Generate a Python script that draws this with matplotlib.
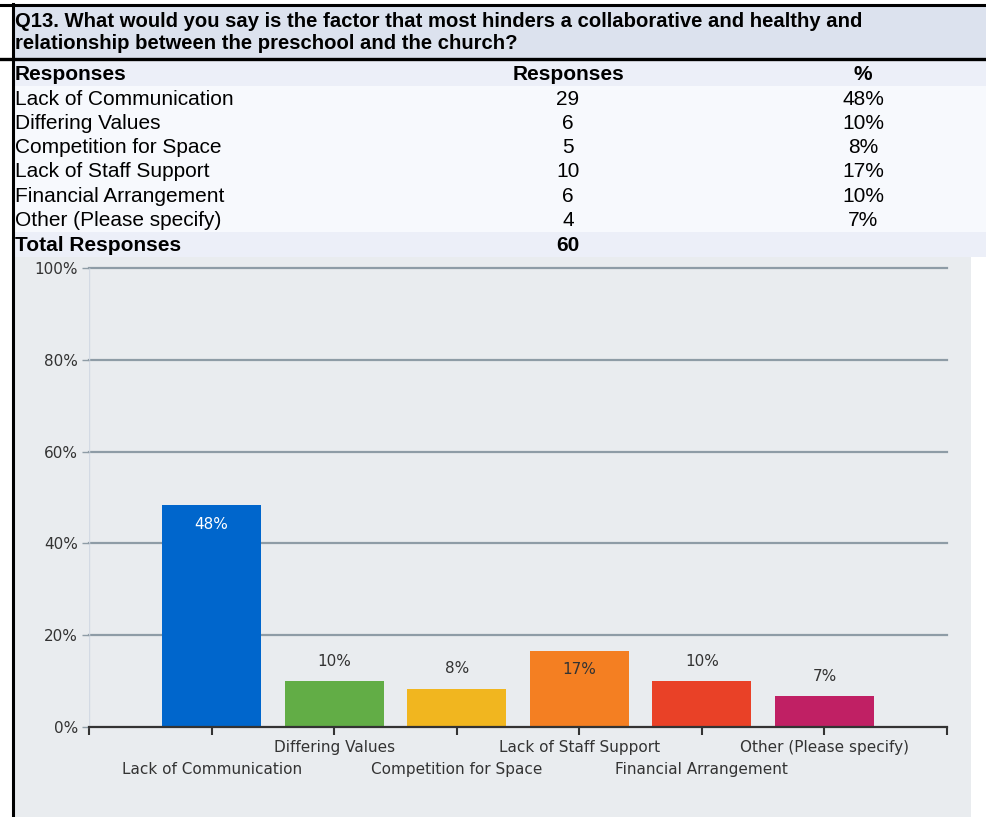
import numpy as np
import matplotlib.pyplot as plt
from matplotlib.patches import Rectangle
from matplotlib.transforms import blended_transform_factory

# survey question and response counts
question = ["Q13. What would you say is the factor that most hinders a collaborative and healthy and",
            "relationship between the preschool and the church?"]
categories = ["Lack of Communication", "Differing Values", "Competition for Space",
              "Lack of Staff Support", "Financial Arrangement", "Other (Please specify)"]
counts = [29, 6, 5, 10, 6, 4]
total = 60
pct = [100.0 * c / total for c in counts]
bar_colors = ["#0066cc", "#62ad46", "#f1b61f", "#f47f22", "#e94127", "#c02064"]
yticks = [0, 20, 40, 60, 80, 100]

W, H = 987, 817
fig = plt.figure(figsize=(W / 100, H / 100), dpi=100)
fig.patch.set_facecolor("white")

# full-figure canvas in pixel coordinates for the table part
bg = fig.add_axes([0, 0, 1, 1])
bg.set_xlim(0, W)
bg.set_ylim(H, 0)
bg.axis("off")

def rect(x0, y0, x1, y1, color):
    bg.add_patch(Rectangle((x0, y0), x1 - x0, y1 - y0, facecolor=color, edgecolor="none", zorder=0))

rect(13, 4, W, 58, "#dce2ee")      # question box
rect(13, 60, W, 86, "#eceff8")     # column header row
rect(13, 86, W, 232, "#f7f9fd")    # data rows
rect(13, 232, W, 257, "#eceff8")   # total row
rect(13, 257, 971, H, "#e9ecef")   # chart area

bg.plot([0, W], [4.5, 4.5], color="black", lw=2.2, zorder=2)
bg.plot([0, W], [58.5, 58.5], color="black", lw=2.4, zorder=2)
bg.plot([12.5, 12.5], [4, H], color="black", lw=2.2, zorder=2)

tfont = dict(family=["Liberation Sans", "DejaVu Sans"], fontsize=15, color="black")
qfont = {**tfont, "fontsize": 14.6}
bg.text(15, 21, question[0], va="center", ha="left", fontweight="bold", **qfont)
bg.text(15, 43, question[1], va="center", ha="left", fontweight="bold", **qfont)

bg.text(15, 74, "Responses", va="center", ha="left", fontweight="bold", **tfont)
bg.text(568, 74, "Responses", va="center", ha="center", fontweight="bold", **tfont)
bg.text(863, 74, "%", va="center", ha="center", fontweight="bold", **tfont)

row_h = 24.3
for i, (cat, c, p) in enumerate(zip(categories, counts, pct)):
    y = 99 + i * row_h
    bg.text(15, y, cat, va="center", ha="left", **tfont)
    bg.text(568, y, f"{c}", va="center", ha="center", **tfont)
    bg.text(863, y, f"{p:.0f}%", va="center", ha="center", **tfont)

bg.text(15, 245, "Total Responses", va="center", ha="left", fontweight="bold", **tfont)
bg.text(568, 245, f"{total}", va="center", ha="center", fontweight="bold", **tfont)

# bar chart
x0, x1, ytop, ybot = 89, 947, 268, 727
ax = fig.add_axes([x0 / W, (H - ybot) / H, (x1 - x0) / W, (ybot - ytop) / H])
ax.set_facecolor("none")
ax.set_xlim(0, 7)
ax.set_ylim(0, 100)

cfont = dict(family=["DejaVu Sans"], fontsize=11, color="#333333")

for v in yticks[1:]:
    ax.axhline(v, color="#8e9ca6", lw=1.6, zorder=1, clip_on=False)
ax.axvline(0, color="#d3dae4", lw=1.0, zorder=1)

xpos = np.arange(1, len(categories) + 1)
ax.bar(xpos, pct, width=0.81, color=bar_colors, zorder=2)

for x, p in zip(xpos, pct):
    if p > 15:
        col = "white" if p > 30 else "#333333"
        ax.annotate(f"{p:.0f}%", (x, p), xytext=(0, -19), textcoords="offset pixels",
                    ha="center", va="center", zorder=3, **{**cfont, "color": col})
    else:
        ax.annotate(f"{p:.0f}%", (x, p), xytext=(0, 20), textcoords="offset pixels",
                    ha="center", va="center", zorder=3, **cfont)

for s in ["top", "right", "left"]:
    ax.spines[s].set_visible(False)
ax.spines["bottom"].set_color("#333333")
ax.spines["bottom"].set_linewidth(1.6)
ax.spines["bottom"].set_zorder(4)

ax.set_yticks(yticks)
ax.set_yticklabels([f"{v}%" for v in yticks], **cfont)
ax.tick_params(axis="y", length=5, width=1, color="#8e9ca6", pad=3)

ax.set_xticks(np.arange(0, 8))
ax.set_xticklabels([])
ax.tick_params(axis="x", length=6, width=1.5, color="#333333", direction="out")

trans = blended_transform_factory(ax.transData, ax.transAxes)
for i, (x, cat) in enumerate(zip(xpos, categories)):
    yoff = -0.045 if i % 2 == 1 else -0.093
    ax.text(x, yoff, cat, transform=trans, ha="center", va="center", **cfont)

fig.savefig("out.png", dpi=100)
